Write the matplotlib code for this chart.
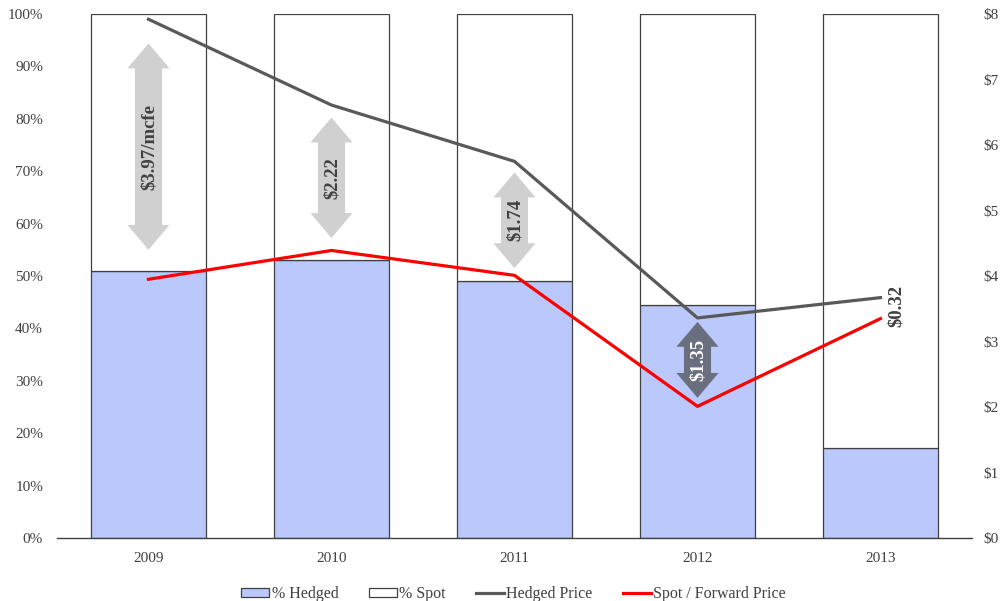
import numpy as np
import matplotlib
matplotlib.use("Agg")
import matplotlib.pyplot as plt
from matplotlib.patches import Polygon

plt.rcParams['font.family'] = ['Liberation Serif', 'DejaVu Serif']
plt.rcParams['text.color'] = '#404040'

# Hedging position by year
years = ['2009', '2010', '2011', '2012', '2013']
pct_hedged = [51, 53, 49, 44.5, 17.2]
pct_spot = [100 - h for h in pct_hedged]

# $/mcfe
hedged_price = [7.92, 6.61, 5.75, 3.36, 3.67]
spot_price = [3.95, 4.39, 4.01, 2.01, 3.35]

# vertical span of the spread arrows, in $ (top, bottom)
arrow_spans = [(7.55, 4.40), (6.42, 4.58), (5.58, 4.12), (3.30, 2.14)]
arrow_colors = ['#d0d0d0', '#d0d0d0', '#d0d0d0', '#6a6f7f']
arrow_text_colors = ['#404040', '#404040', '#404040', 'white']

BLUE = '#bac8fb'
EDGE = '#404040'

fig = plt.figure(figsize=(10.03, 6.01), dpi=100)
ax = fig.add_axes([0.0568, 0.1048, 0.9123, 0.8719])
ax2 = ax.twinx()

x = np.arange(len(years))
ax.bar(x, pct_hedged, width=0.625, color=BLUE, edgecolor=EDGE, linewidth=0.9,
       label='% Hedged', zorder=2)
ax.bar(x, pct_spot, width=0.625, bottom=pct_hedged, color='white', edgecolor=EDGE,
       linewidth=0.9, label='% Spot', zorder=2)

ax.set_xlim(-0.5, len(years) - 0.5)
ax.set_ylim(0, 100)
ax.set_yticks(np.arange(0, 101, 10))
ax.set_yticklabels([f'{v}%' for v in range(0, 101, 10)])
ax.set_xticks(x)
ax.set_xticklabels(years)

ax2.plot(x, hedged_price, color='#595959', lw=2.3, label='Hedged Price', zorder=3)
ax2.plot(x, spot_price, color='#ff0000', lw=2.3, label='Spot / Forward Price', zorder=3)
ax2.set_ylim(0, 8)
ax2.set_yticks(range(0, 9))
ax2.set_yticklabels([f'${v}' for v in range(0, 9)])

for a in (ax, ax2):
    for s in ['top', 'left', 'right', 'bottom']:
        a.spines[s].set_visible(False)
    a.tick_params(length=0, labelsize=11, labelcolor='#404040')
ax.spines['bottom'].set_visible(True)
ax.spines['bottom'].set_color('#404040')
ax.spines['bottom'].set_linewidth(1.0)
ax.tick_params(axis='y', pad=10)
ax.tick_params(axis='x', pad=10)
ax2.tick_params(axis='y', pad=8)


def double_arrow(axis, xc, top, bottom, color, shaft=0.074, head=0.115, head_len=0.38):
    pts = [
        (xc, top), (xc + head, top - head_len), (xc + shaft, top - head_len),
        (xc + shaft, bottom + head_len), (xc + head, bottom + head_len),
        (xc, bottom), (xc - head, bottom + head_len), (xc - shaft, bottom + head_len),
        (xc - shaft, top - head_len), (xc - head, top - head_len),
    ]
    axis.add_patch(Polygon(pts, closed=True, facecolor=color, edgecolor='none', zorder=4))


spread = [h - s for h, s in zip(hedged_price, spot_price)]
for i, (top, bottom) in enumerate(arrow_spans):
    double_arrow(ax2, x[i], top, bottom, arrow_colors[i])
    label = f'${spread[i]:.2f}' + ('/mcfe' if i == 0 else '')
    ax2.text(x[i] + 0.005, (top + bottom) / 2, label, rotation=90, ha='center', va='center',
             fontsize=13.5, fontweight='bold', color=arrow_text_colors[i], zorder=5)

ax2.text(x[4] + 0.085, 3.54, f'${spread[4]:.2f}', rotation=90, ha='center', va='center',
         fontsize=13.5, fontweight='bold', color='#404040', zorder=5)

h1, l1 = ax.get_legend_handles_labels()
h2, l2 = ax2.get_legend_handles_labels()
fig.legend(h1 + h2, l1 + l2, loc='center', bbox_to_anchor=(0.512, 0.011), ncol=4,
           frameon=False, fontsize=11.5, handlelength=1.75, handleheight=0.5,
           handletextpad=0.15, columnspacing=1.9, borderpad=0.1)

fig.savefig('out.png', dpi=100)
